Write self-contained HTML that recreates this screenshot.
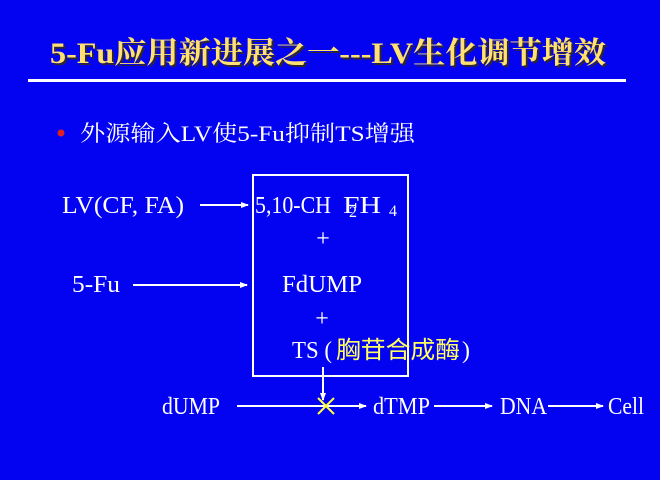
<!DOCTYPE html>
<html><head><meta charset="utf-8"><style>
html,body{margin:0;padding:0;background:#0303f2;}
svg{display:block}
</style></head><body>
<svg width="660" height="480" xmlns="http://www.w3.org/2000/svg">
<defs>
<marker id="a" markerWidth="8" markerHeight="8" refX="7" refY="4" orient="auto" markerUnits="userSpaceOnUse">
<path d="M0,1 L8,4 L0,7 Z" fill="#fff"/></marker>
</defs>
<rect width="660" height="480" fill="#0303f2"/>
<g font-family="'Liberation Serif','Noto Serif CJK SC',serif">
<text x="50" y="63" font-size="30" font-weight="bold" fill="#3a3000" opacity="0.8" textLength="556" lengthAdjust="spacingAndGlyphs" transform="translate(2,2)">5-Fu应用新进展之一---LV生化调节增效</text>
<text x="50" y="63" font-size="30" font-weight="bold" fill="#ffe070" textLength="556" lengthAdjust="spacingAndGlyphs">5-Fu应用新进展之一---LV生化调节增效</text>
<rect x="28" y="79" width="598" height="3" fill="#fff"/>
<circle cx="61" cy="133" r="3.5" fill="#e02020"/>
<text x="80" y="141" font-size="22" fill="#fff" textLength="335" lengthAdjust="spacingAndGlyphs">外源输入LV使5-Fu抑制TS增强</text>
<rect x="253" y="175" width="155" height="201" fill="none" stroke="#fff" stroke-width="2"/>
<g font-size="24" fill="#fff">
<text x="62" y="213" textLength="122" lengthAdjust="spacingAndGlyphs">LV(CF, FA)</text>
<text x="255" y="213" textLength="76" lengthAdjust="spacingAndGlyphs">5,10-CH</text>
<text x="343" y="213" textLength="38" lengthAdjust="spacingAndGlyphs">FH</text>
<text x="349" y="217" font-size="16">2</text>
<text x="389" y="216" font-size="16">4</text>
<text x="323" y="246" text-anchor="middle">+</text>
<text x="72" y="292" textLength="48" lengthAdjust="spacingAndGlyphs">5-Fu</text>
<text x="282" y="292" textLength="80" lengthAdjust="spacingAndGlyphs">FdUMP</text>
<text x="322" y="326" text-anchor="middle">+</text>
<text x="292" y="358" textLength="40" lengthAdjust="spacingAndGlyphs">TS (</text>
<text x="336" y="358" fill="#ffff60" font-family="'Noto Sans CJK SC',sans-serif" font-size="24" textLength="124" lengthAdjust="spacingAndGlyphs">胸苷合成酶</text>
<text x="462" y="358">)</text>
<text x="162" y="414" textLength="58" lengthAdjust="spacingAndGlyphs">dUMP</text>
<text x="373" y="414" textLength="57" lengthAdjust="spacingAndGlyphs">dTMP</text>
<text x="500" y="414" textLength="47" lengthAdjust="spacingAndGlyphs">DNA</text>
<text x="608" y="414" textLength="36" lengthAdjust="spacingAndGlyphs">Cell</text>
</g>
</g>
<g stroke="#fff" stroke-width="2" fill="none">
<line x1="200" y1="205" x2="248" y2="205" marker-end="url(#a)"/>
<line x1="133" y1="285" x2="247" y2="285" marker-end="url(#a)"/>
<line x1="323" y1="367" x2="323" y2="400" marker-end="url(#a)"/>
<line x1="237" y1="406" x2="366" y2="406" marker-end="url(#a)"/>
<line x1="434" y1="406" x2="492" y2="406" marker-end="url(#a)"/>
<line x1="548" y1="406" x2="603" y2="406" marker-end="url(#a)"/>
</g>
<g stroke="#ffff40" stroke-width="2">
<line x1="318" y1="398" x2="334" y2="414"/>
<line x1="334" y1="398" x2="318" y2="414"/>
</g>
</svg>
</body></html>
